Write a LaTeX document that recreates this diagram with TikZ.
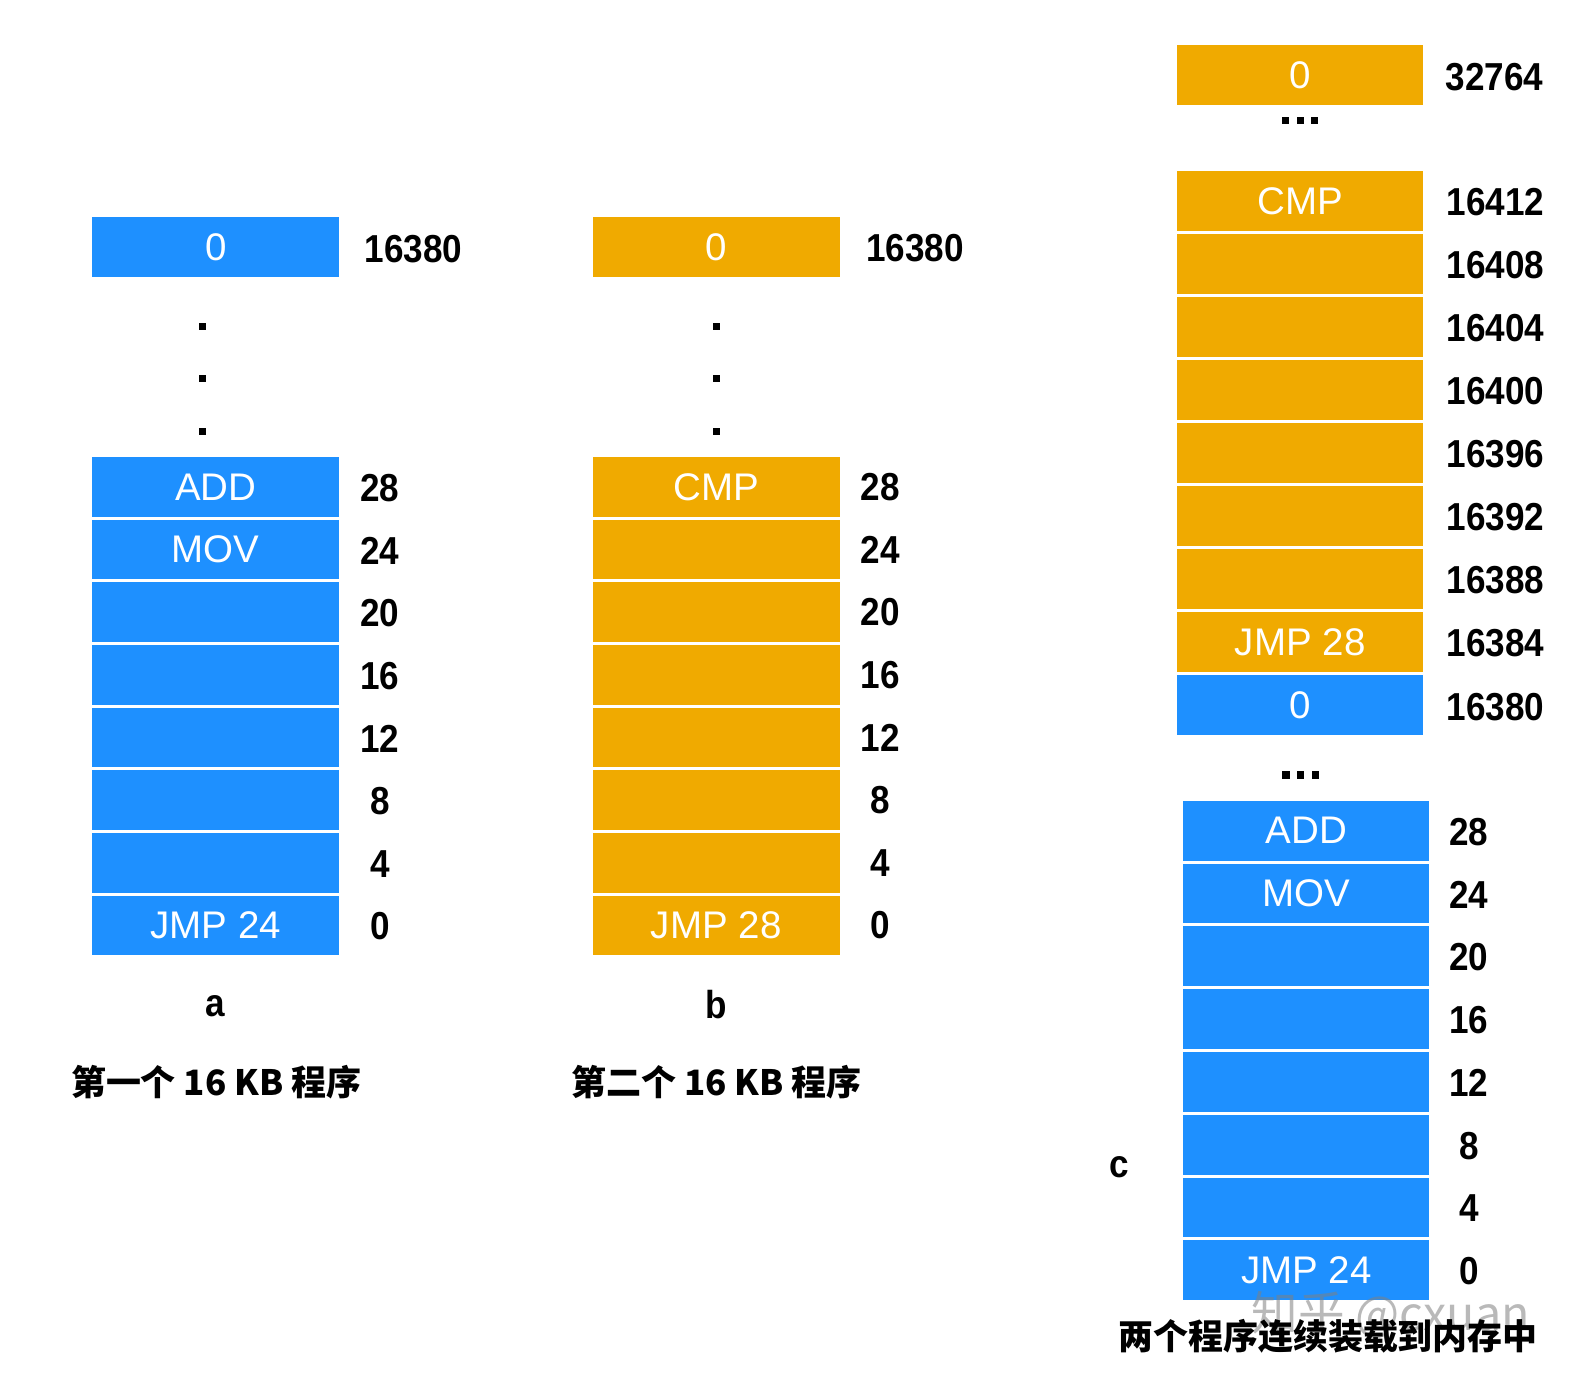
\documentclass[tikz,border=0pt]{standalone}
\usepackage{fontspec}
\setmainfont{Liberation Sans}
\newfontfamily\labfont{Liberation Sans}[FakeStretch=0.9]
\newfontfamily\cjk{Noto Sans CJK SC}
\definecolor{blueC}{RGB}{30,144,255}
\definecolor{orangeC}{RGB}{240,170,0}
\begin{document}
\begin{tikzpicture}[x=1pt,y=-1pt,
  cell/.style={minimum width=244pt, minimum height=59pt, inner sep=0pt, text=white, font=\fontsize{38}{40}\selectfont},
  bcell/.style={cell, fill=blueC},
  ocell/.style={cell, fill=orangeC},
  lab/.style={font=\labfont\bfseries\fontsize{38.5}{40}\selectfont, inner sep=0pt},
  dotsq/.style={fill=black, minimum size=7pt, inner sep=0pt},
  captxt/.style={font=\cjk\bfseries\fontsize{34.5}{36}\selectfont, inner sep=0pt},
  wmark/.style={font=\cjk\fontsize{46}{48}\selectfont, inner sep=0pt, text=gray, text opacity=0.55}]
\useasboundingbox (0,0) rectangle (1567.6,1362.3);

% ---------- column a ----------
\node[bcell] (atop) at (213,244) {0};
\node[lab, anchor=west] (latop) at (360,246) {16380};
\node[dotsq] (ad1) at (200,322) {};
\node[dotsq] (ad2) at (200,374) {};
\node[dotsq] (ad3) at (200,426) {};
\foreach \i/\t/\l in {0/ADD/28,1/MOV/24,2//20,3//16,4//12,5//8,6//4,7/JMP 24/0}{
  \node[bcell] (a\i) at (213,{480.5+61.86*\i}) {\t};
  \node[lab] (la\i) at (375,{481.5+61.86*\i}) {\l};
}
\node[lab] (capa) at (212,993) {a};
\node[captxt] (txta) at (213.5,1068) {第一个 16 KB 程序};

% ---------- column b ----------
\node[ocell] (btop) at (707,244) {0};
\node[lab, anchor=west] (lbtop) at (855,245) {16380};
\node[dotsq] (bd1) at (707,322) {};
\node[dotsq] (bd2) at (707,374) {};
\node[dotsq] (bd3) at (707,426) {};
\foreach \i/\t/\l in {0/CMP/28,1//24,2//20,3//16,4//12,5//8,6//4,7/JMP 28/0}{
  \node[ocell] (b\i) at (707,{480.5+61.86*\i}) {\t};
  \node[lab] (lb\i) at (869,{480.5+61.86*\i}) {\l};
}
\node[lab] (capb) at (707,992) {b};
\node[captxt] (txtb) at (707.5,1068) {第二个 16 KB 程序};

% ---------- column c ----------
\node[ocell, minimum width=243pt] (ctop) at (1283.5,74) {0};
\node[lab, anchor=west] (lctop) at (1427,76) {32764};
\node[dotsq] (cd1) at (1269,119) {};
\node[dotsq] (cd2) at (1283.5,119) {};
\node[dotsq] (cd3) at (1298,119) {};
\foreach \i/\t/\l in {0/CMP/16412,1//16408,2//16404,3//16400,4//16396,5//16392,6//16388,7/JMP 28/16384}{
  \node[ocell, minimum width=243pt] (c\i) at (1283.5,{198.5+62.2*\i}) {\t};
  \node[lab, anchor=west] (lc\i) at (1428,{199.5+62.2*\i}) {\l};
}
\node[bcell, minimum width=243pt] (c8) at (1283.5,696.1) {0};
\node[lab, anchor=west] (lc8) at (1428,698) {16380};
\node[dotsq] (ce1) at (1269.5,765) {};
\node[dotsq] (ce2) at (1284,765) {};
\node[dotsq] (ce3) at (1298.5,765) {};
\foreach \i/\t/\l in {0/ADD/28,1/MOV/24,2//20,3//16,4//12,5//8,6//4,7/JMP 24/0}{
  \node[bcell, minimum width=243pt] (d\i) at (1289.5,{820+62*\i}) {\t};
  \node[lab] (ld\i) at (1450,{821+62*\i}) {\l};
}
\node[lab] (capc) at (1105,1152) {c};
\node[wmark] (wm) at (1373,1298) {知乎 @cxuan};
\node[captxt] (txtc) at (1311,1319) {两个程序连续装载到内存中};
\end{tikzpicture}
\end{document}
